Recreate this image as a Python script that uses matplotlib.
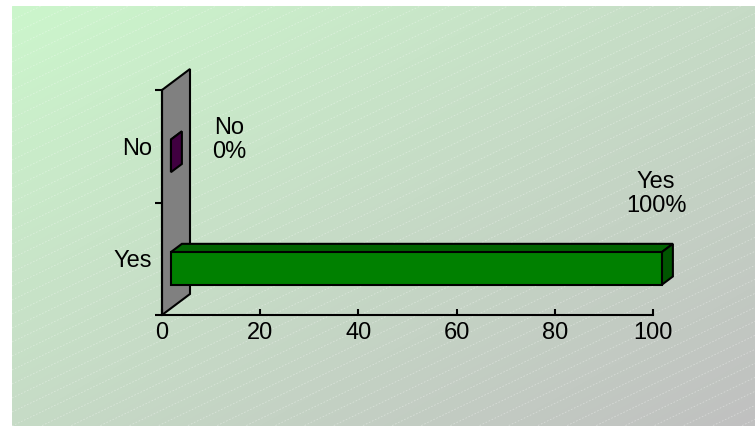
import numpy as np
import matplotlib.pyplot as plt
from matplotlib.patches import Polygon

# ----------------------------------------------------------
# Data
# ----------------------------------------------------------
categories = ["Yes", "No"]
values = [100, 0]
data_labels = ["Yes\n100%", "No\n0%"]
base_colors = [(0.0, 0.50, 0.0), (0.376, 0.0, 0.376)]
xticks = [0, 20, 40, 60, 80, 100]

plt.rcParams["font.family"] = ["Liberation Sans", "DejaVu Sans"]

W, H = 755, 426
fig = plt.figure(figsize=(W / 100, H / 100), dpi=100)
fig.patch.set_facecolor("white")

# ----------------------------------------------------------
# Background panel: diagonal green -> grey gradient with faint hatching
# ----------------------------------------------------------
gw, gh = W - 12, H - 6
bg = fig.add_axes([12 / W, 0, gw / W, gh / H])
bg.set_axis_off()
xx, yy = np.meshgrid(np.linspace(0, 1, gw), np.linspace(0, 1, gh))
t = (xx + yy) / 2
c1 = np.array([204, 246, 204]) / 255
c2 = np.array([192, 192, 192]) / 255
bg.imshow(c1 + t[..., None] * (c2 - c1), extent=[0, gw, gh, 0], aspect="auto")
for c in np.arange(0, gh + 0.48 * gw + 14, 14):
    bg.plot([0, gw], [c, c - 0.48 * gw], color="white", alpha=0.35,
            lw=0.6, ls=(0, (2, 2)))
bg.set_xlim(0, gw)
bg.set_ylim(gh, 0)

# ----------------------------------------------------------
# Main axes (front plane of the 3D chart)
# ----------------------------------------------------------
ax = fig.add_axes([162 / W, (H - 315) / H, 491 / W, 225 / H])
ax.set_xlim(0, 100)
ax.set_ylim(0, 2)
ax.patch.set_alpha(0)

# depth of the 3D box, converted from pixels to data units
DX = 28 / (491 / 100)
DY = 21 / (225 / 2)

# back wall
wall = Polygon([(0, 0), (0, 2), (DX, 2 + DY), (DX, DY)], closed=True,
               facecolor="#808080", edgecolor="black", lw=1.5,
               clip_on=False, zorder=1)
ax.add_patch(wall)

# 3D bars
f1, f2 = 0.32, 0.71
bh = 0.29
for i, (v, col) in enumerate(zip(values, base_colors)):
    y0 = i + 0.21
    col = np.array(col)
    front = [(f1 * DX, y0 + f1 * DY), (v + f1 * DX, y0 + f1 * DY),
             (v + f1 * DX, y0 + bh + f1 * DY), (f1 * DX, y0 + bh + f1 * DY)]
    top = [(f1 * DX, y0 + bh + f1 * DY), (v + f1 * DX, y0 + bh + f1 * DY),
           (v + f2 * DX, y0 + bh + f2 * DY), (f2 * DX, y0 + bh + f2 * DY)]
    side = [(v + f1 * DX, y0 + f1 * DY), (v + f1 * DX, y0 + bh + f1 * DY),
            (v + f2 * DX, y0 + bh + f2 * DY), (v + f2 * DX, y0 + f2 * DY)]
    for pts, shade in [(top, 0.78), (side, 0.67), (front, 1.0)]:
        ax.add_patch(Polygon(pts, closed=True, facecolor=col * shade,
                             edgecolor="black", lw=1.5, clip_on=False,
                             zorder=3))

# data labels
label_offsets = [(3, 65), (67, 6)]
for i, (v, lab) in enumerate(zip(values, data_labels)):
    ax.annotate(lab, xy=(v, i + 0.5), xytext=label_offsets[i],
                textcoords="offset pixels", ha="center", va="center",
                fontsize=17, linespacing=1.1)

# axes styling
for s in ["top", "right"]:
    ax.spines[s].set_visible(False)
for s in ["left", "bottom"]:
    ax.spines[s].set_linewidth(1.5)
    ax.spines[s].set_zorder(2)

ax.set_xticks(xticks)
ax.set_xticklabels([str(x) for x in xticks])
ax.tick_params(axis="x", direction="in", length=4, width=1.5,
               labelsize=17, pad=5)

ax.set_yticks([0, 1, 2])
ax.set_yticklabels([])
ax.set_yticks([0.5, 1.5], minor=True)
ax.set_yticklabels(categories, minor=True)
ax.tick_params(axis="y", which="major", direction="out", length=5, width=1.5)
ax.tick_params(axis="y", which="minor", length=0, labelsize=17, pad=7)

fig.savefig("out.png", dpi=100)
